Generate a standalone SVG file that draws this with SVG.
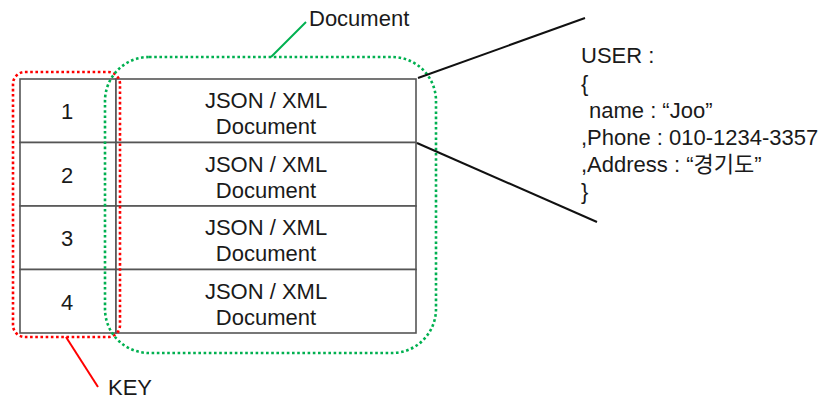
<svg xmlns="http://www.w3.org/2000/svg" width="829" height="400" viewBox="0 0 829 400">
  <style>
    text { font-family: "Liberation Sans", "Noto Sans CJK KR", sans-serif; font-size: 22px; fill: #1a1a1a; }
    .c { text-anchor: middle; }
    .rec { font-size: 22px; }
    .cell { fill: #ffffff; stroke: #555555; stroke-width: 1.6; }
    .dotG { fill: none; stroke: #00b050; stroke-width: 2.6; stroke-dasharray: 2.6 2.6; }
    .dotR { fill: none; stroke: #ff0000; stroke-width: 2.6; stroke-dasharray: 2.6 2.6; }
    .lead { stroke: #111111; stroke-width: 2; fill: none; }
  </style>

  <!-- key / document table -->
  <g id="row1">
    <rect class="cell" x="20" y="79" width="96" height="63.5"/>
    <rect class="cell" x="116" y="79" width="300" height="63.5"/>
    <text class="c" x="67" y="119">1</text>
    <text class="c" x="266" y="108">JSON / XML</text>
    <text class="c" x="266" y="134">Document</text>
  </g>
  <g id="row2">
    <rect class="cell" x="20" y="142.5" width="96" height="63.5"/>
    <rect class="cell" x="116" y="142.5" width="300" height="63.5"/>
    <text class="c" x="67" y="182.5">2</text>
    <text class="c" x="266" y="171.5">JSON / XML</text>
    <text class="c" x="266" y="197.5">Document</text>
  </g>
  <g id="row3">
    <rect class="cell" x="20" y="206" width="96" height="63.5"/>
    <rect class="cell" x="116" y="206" width="300" height="63.5"/>
    <text class="c" x="67" y="246">3</text>
    <text class="c" x="266" y="235">JSON / XML</text>
    <text class="c" x="266" y="261">Document</text>
  </g>
  <g id="row4">
    <rect class="cell" x="20" y="269.5" width="96" height="63.5"/>
    <rect class="cell" x="116" y="269.5" width="300" height="63.5"/>
    <text class="c" x="67" y="309.5">4</text>
    <text class="c" x="266" y="298.5">JSON / XML</text>
    <text class="c" x="266" y="324.5">Document</text>
  </g>

  <!-- highlighted groups -->
  <g id="key-group">
    <rect class="dotR" x="13" y="72" width="107" height="265" rx="12"/>
    <text x="108" y="395">KEY</text>
  </g>
  <g id="document-group">
    <rect class="dotG" x="105" y="57" width="331" height="296" rx="44"/>
    <text x="309" y="26">Document</text>
  </g>

  <!-- sample record -->
  <g id="record">
    <text class="rec" x="581" y="63">USER :</text>
    <text class="rec" x="581" y="91">{</text>
    <text class="rec" x="589" y="118">name : “Joo”</text>
    <text class="rec" x="581" y="145">,Phone : 010-1234-3357</text>
    <text class="rec" x="581" y="172">,Address : “경기도”</text>
    <text class="rec" x="581" y="199">}</text>
  </g>

  <!-- connectors -->
  <g id="connectors">
    <line x1="271" y1="57" x2="306" y2="22" stroke="#00b050" stroke-width="2"/>
    <line x1="66" y1="337" x2="98" y2="387" stroke="#ff0000" stroke-width="2"/>
    <line class="lead" x1="418" y1="78" x2="585" y2="18"/>
    <line class="lead" x1="417" y1="143" x2="597" y2="222"/>
  </g>
</svg>
